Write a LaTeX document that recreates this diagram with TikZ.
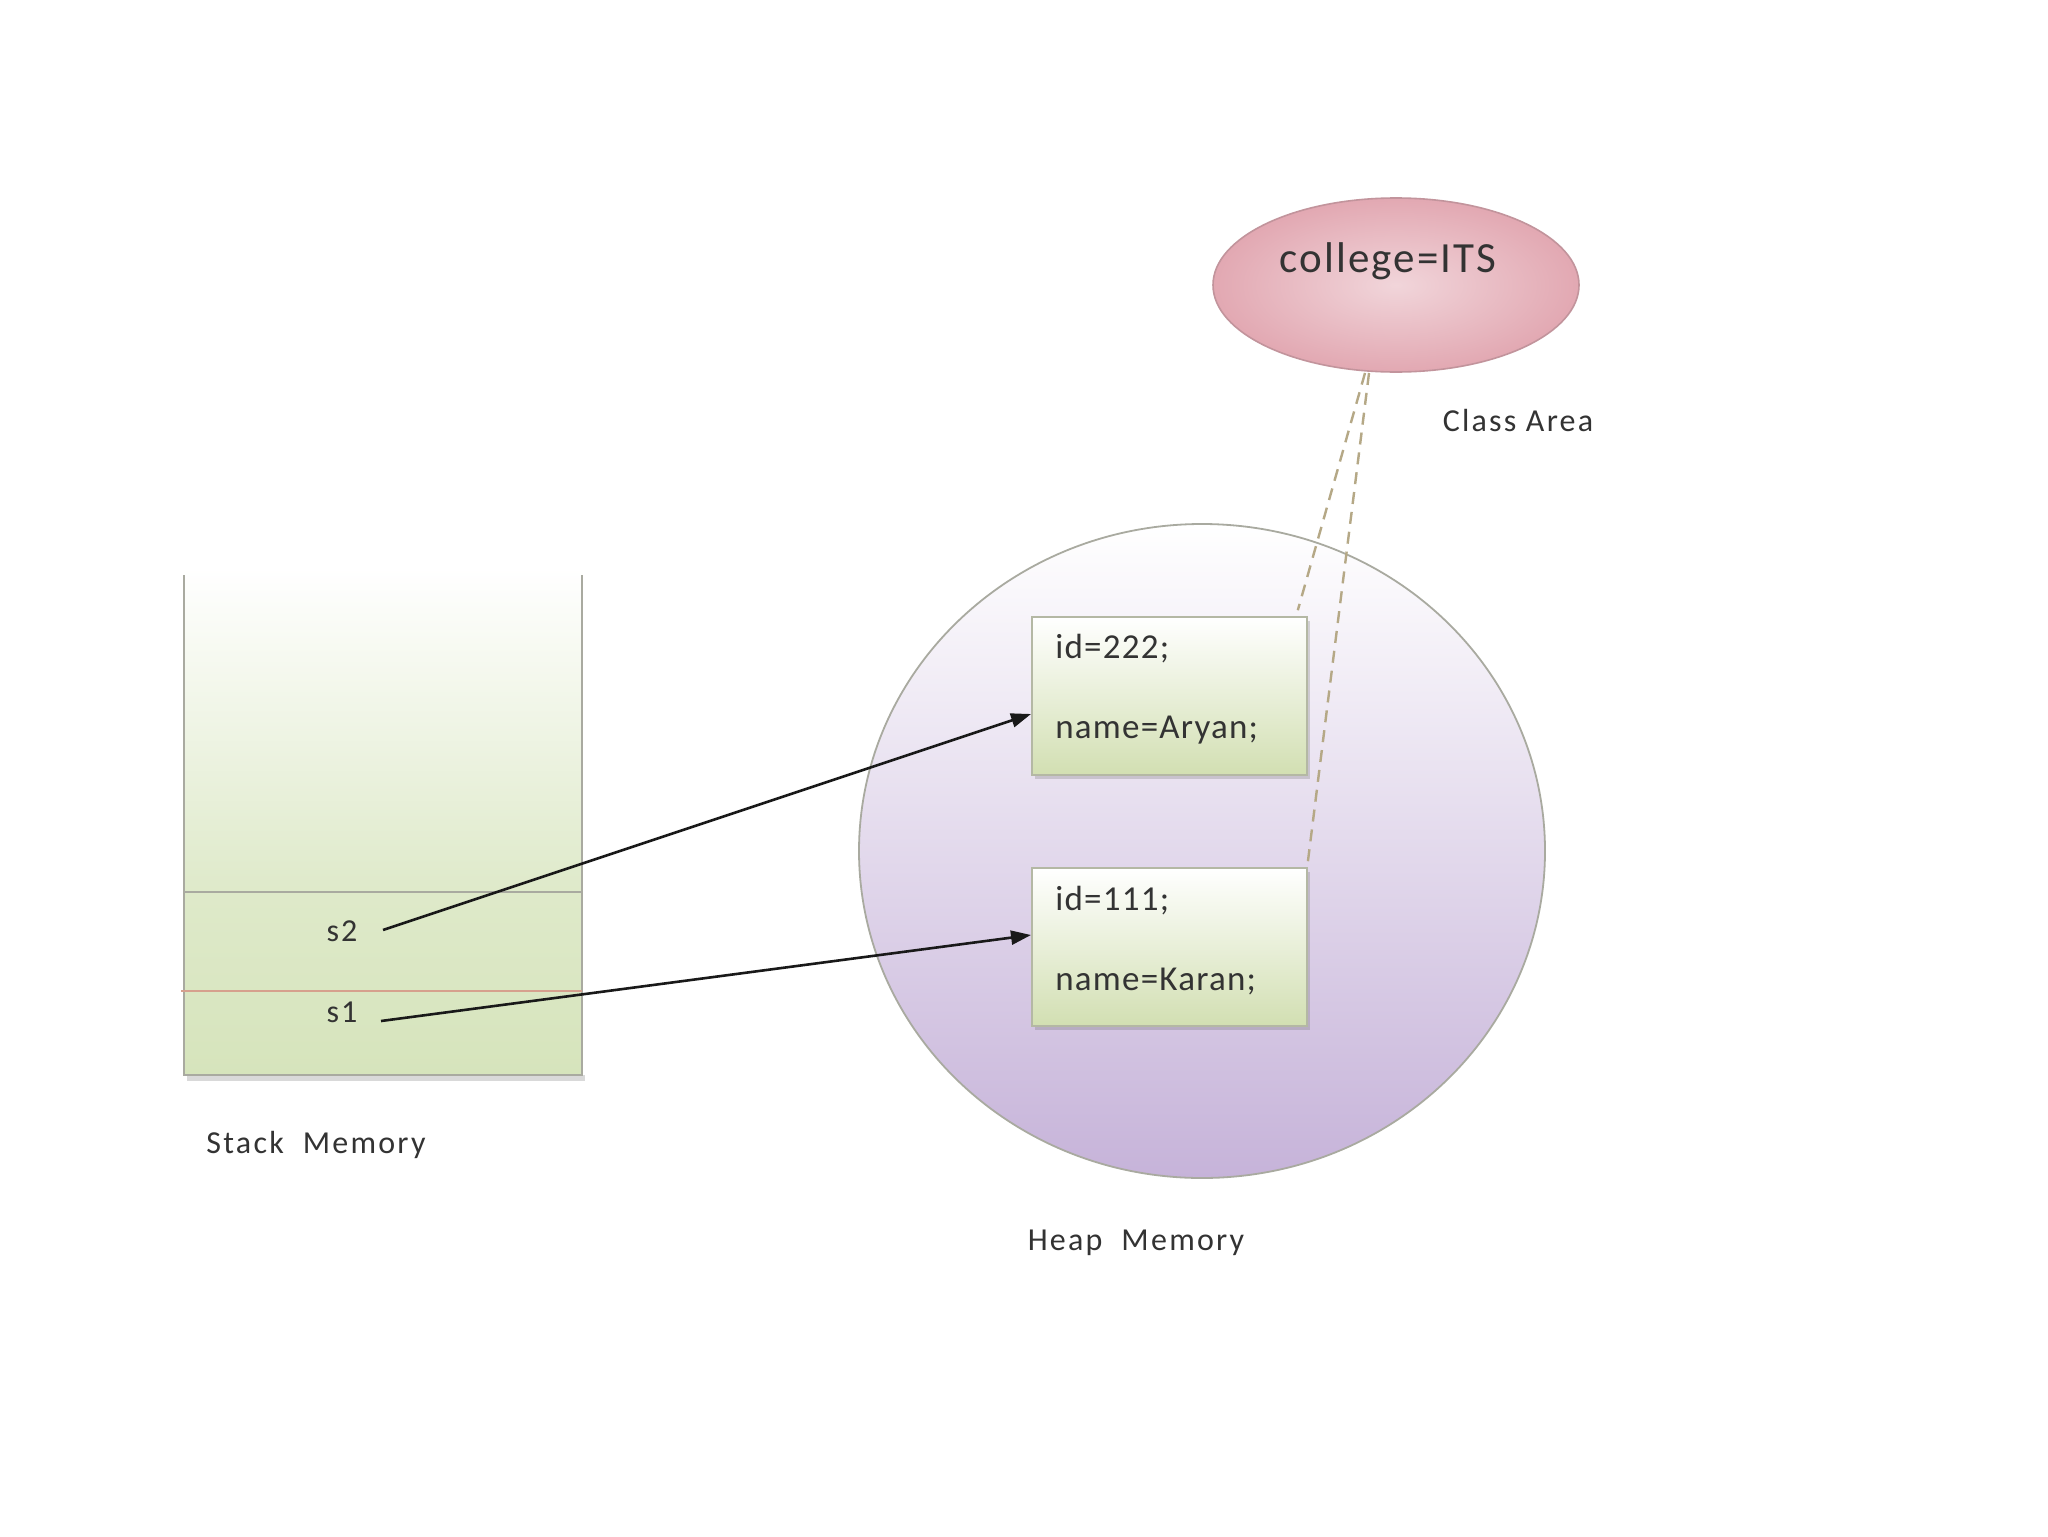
\documentclass[tikz,border=0pt]{standalone}
\usepackage{fontspec}
\setmainfont{Carlito}
\usetikzlibrary{shapes.geometric,arrows.meta,shadows,calc}
\definecolor{stackgreen}{HTML}{D6E4BC}
\definecolor{boxgreen}{HTML}{D2DFB2}
\definecolor{heaplav}{HTML}{C6B3D9}
\definecolor{pinkout}{HTML}{E2A8B2}
\definecolor{pinkin}{HTML}{F1D5DA}
\definecolor{pinkedge}{HTML}{C2949C}
\definecolor{edgegray}{HTML}{A9AAA0}
\definecolor{boxedge}{HTML}{B4B8A4}
\definecolor{txt}{HTML}{333333}
\definecolor{dashc}{HTML}{B5A886}
\definecolor{redline}{HTML}{D6A08E}
\tikzset{
  lbl/.style={text=txt, font=\fontsize{16}{18}\selectfont\addfontfeatures{LetterSpace=7}, inner sep=0pt},
  boxtxt/.style={text=txt, font=\fontsize{17.5}{20}\selectfont\addfontfeatures{LetterSpace=3.5}, inner sep=0pt, anchor=west},
  objbox/.style={rectangle, draw=boxedge, line width=0.8pt, top color=white, bottom color=boxgreen,
    minimum width=137.5pt, minimum height=79pt, inner sep=0pt,
    drop shadow={shadow xshift=1.5pt, shadow yshift=-2pt, opacity=0.25, fill=black!60}},
  ptr/.style={draw=black!90, line width=1.3pt, -{Triangle[length=10pt,width=7pt]}},
  link/.style={draw=dashc, line width=1.2pt, dashed, dash pattern=on 6pt off 4pt},
}
\begin{document}
\begin{tikzpicture}[x=0.5pt,y=-0.5pt]
\useasboundingbox (0,0) rectangle (2048,1536);
\fill[white] (0,0) rectangle (2048,1536);

% stack memory
\shade[top color=white, bottom color=stackgreen!80] (184,568) rectangle (582,892);
\shade[top color=stackgreen!80, bottom color=stackgreen] (184,892) rectangle (582,1075);
\fill[black!15] (187,1075) rectangle (585,1081);
\draw[edgegray, line width=0.9pt] (184,575) -- (184,1075) -- (582,1075) -- (582,575);
\draw[edgegray, line width=0.8pt] (184,892) -- (582,892);
\draw[redline, line width=0.8pt] (181,991) -- (582,991);
\node[lbl] (s2) at (342,931) {s2};
\node[lbl] (s1) at (342,1012) {s1};
\coordinate (s2p) at (383,930);
\coordinate (s1p) at (381,1021);
\node[lbl] (stacklbl) at (316,1145) {Stack\ \ Memory};

% heap memory
\node[ellipse, draw=edgegray, line width=0.9pt, top color=white, bottom color=heaplav,
      minimum width=343pt, minimum height=327pt, inner sep=0pt] (heap) at (1202,851) {};
\node[lbl] (heaplbl) at (1136,1243) {Heap\ \ Memory};

% class area
\node[ellipse, draw=pinkedge, line width=0.8pt, inner color=pinkin, outer color=pinkout,
      minimum width=183pt, minimum height=87pt, inner sep=0pt] (cls) at (1396,285) {};
\node[text=txt, font=\fontsize{21.5}{24}\selectfont\addfontfeatures{LetterSpace=5}, inner sep=0pt] (college) at (1388,261) {college=ITS};
\node[lbl] (classlbl) at (1518,421) {Class\ Area};

% objects
\node[objbox] (b1) at (1169.5,696) {};
\node[objbox] (b2) at (1169.5,947) {};
\node[boxtxt] (id2) at (1055,649) {id=222;};
\node[boxtxt] (nm2) at (1055,730) {name=Aryan;};
\node[boxtxt] (id1) at (1055,901) {id=111;};
\node[boxtxt] (nm1) at (1055,981) {name=Karan;};

% links from class area
\coordinate (clsA) at (1365,373);
\coordinate (clsB) at (1369,373);
\draw[link] (clsA) -- ($(b1.north east)+(-10,-6)$);
\draw[link] (clsB) -- ($(b2.north east)+(0,-5)$);

% references
\coordinate (b1in) at (1031,714);
\coordinate (b2in) at (1031,935);
\draw[ptr] (s2p) -- (b1in);
\draw[ptr] (s1p) -- (b2in);
\end{tikzpicture}
\end{document}
